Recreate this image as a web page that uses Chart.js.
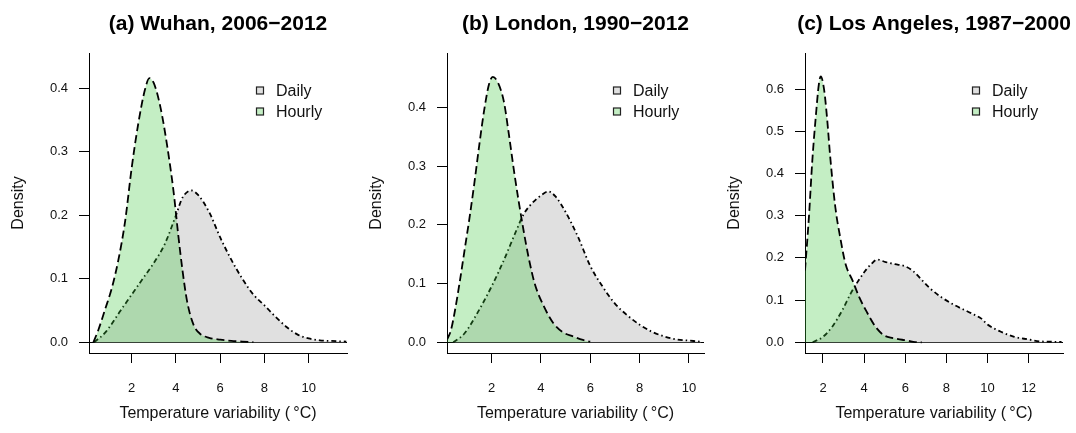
<!DOCTYPE html>
<html>
<head>
<meta charset="utf-8">
<script src="https://cdn.jsdelivr.net/npm/chart.js@4.4.1/dist/chart.umd.min.js"></script>
<style>
  body { margin: 0; background: #fff; }
  #wrap { position: relative; width: 1076px; height: 433px; }
  .panel { position: absolute; top: 0; height: 433px; }
</style>
</head>
<body>
<div id="wrap">
  <div class="panel" style="left:0;width:358px"><canvas id="wuhan" width="358" height="433"></canvas></div>
  <div class="panel" style="left:358px;width:358px"><canvas id="london" width="358" height="433"></canvas></div>
  <div class="panel" style="left:716px;width:360px"><canvas id="losangeles" width="360" height="433"></canvas></div>
</div>
<script>
// --- Data ---
const titles = ['(a) Wuhan, 2006\u22122012', '(b) London, 1990\u22122012', '(c) Los Angeles, 1987\u22122000'];
const seriesNames = ['Daily', 'Hourly'];
const xTitle = 'Temperature variability (\u2009\u00B0C)';
const yTitle = 'Density';

const xTicksAB = [2, 4, 6, 8, 10];
const xTicksC = [2, 4, 6, 8, 10, 12];
const yTicksAB = [0, 0.1, 0.2, 0.3, 0.4];
const yTicksC = [0, 0.1, 0.2, 0.3, 0.4, 0.5, 0.6];

// axis limits
const wuhanXRange = [0.07, 11.73];
const wuhanYRange = [-0.017, 0.4556];
const londonXRange = [0.195, 10.61];
const londonYRange = [-0.0182, 0.4928];
const laXRange = [1.125, 13.67];
const laYRange = [-0.0254, 0.6855];

// Wuhan
const wuhanDailyX = [0.3, 0.8, 1.5, 2.0, 2.5, 3.0, 3.5, 4.0, 4.3, 4.7, 5.0, 5.5, 6.0, 6.5, 7.0, 7.5, 8.0, 8.5, 9.0, 9.5, 10.0, 10.5, 11.0, 11.7];
const wuhanDailyY = [0, 0.015, 0.05, 0.075, 0.1, 0.125, 0.155, 0.2, 0.228, 0.239, 0.232, 0.205, 0.165, 0.13, 0.1, 0.075, 0.058, 0.04, 0.024, 0.012, 0.006, 0.003, 0.002, 0.001];
const wuhanHourlyX = [0.27, 0.5, 0.8, 1.1, 1.4, 1.7, 2.0, 2.3, 2.6, 2.8, 3.0, 3.3, 3.6, 3.9, 4.1, 4.3, 4.5, 4.8, 5.1, 5.5, 6.0, 6.5, 7.0, 7.5];
const wuhanHourlyY = [0, 0.02, 0.052, 0.085, 0.13, 0.19, 0.275, 0.345, 0.398, 0.416, 0.408, 0.37, 0.31, 0.235, 0.17, 0.112, 0.065, 0.027, 0.013, 0.007, 0.004, 0.002, 0.001, 0];

// London
const londonDailyX = [0.45, 0.9, 1.4, 2.0, 2.5, 3.0, 3.3, 3.6, 4.0, 4.3, 4.6, 5.0, 5.5, 6.0, 6.5, 7.0, 7.5, 8.0, 8.5, 9.0, 9.5, 10.0, 10.5];
const londonDailyY = [0, 0.015, 0.048, 0.095, 0.14, 0.19, 0.218, 0.235, 0.25, 0.257, 0.248, 0.222, 0.18, 0.13, 0.095, 0.066, 0.046, 0.03, 0.018, 0.01, 0.005, 0.003, 0.001];
const londonHourlyX = [0.2, 0.35, 0.5, 0.7, 0.9, 1.1, 1.3, 1.5, 1.7, 1.9, 2.05, 2.25, 2.5, 2.7, 2.9, 3.1, 3.3, 3.5, 3.75, 4.1, 4.5, 4.9, 5.3, 5.7, 6.0];
const londonHourlyY = [0.005, 0.02, 0.05, 0.1, 0.155, 0.21, 0.27, 0.335, 0.395, 0.44, 0.452, 0.443, 0.41, 0.355, 0.295, 0.24, 0.19, 0.145, 0.1, 0.063, 0.033, 0.017, 0.01, 0.004, 0.001];

// Los Angeles
const laDailyX = [1.5, 2.0, 2.45, 2.95, 3.35, 3.75, 4.08, 4.32, 4.64, 5.05, 5.5, 6.0, 6.4, 6.8, 7.2, 7.75, 8.4, 9.2, 9.7, 10.0, 10.65, 11.3, 11.95, 12.6, 13.6];
const laDailyY = [0, 0.013, 0.037, 0.077, 0.116, 0.148, 0.171, 0.184, 0.196, 0.19, 0.185, 0.18, 0.168, 0.148, 0.128, 0.107, 0.088, 0.069, 0.056, 0.042, 0.025, 0.013, 0.007, 0.002, 0.001];
const laHourlyX = [1.125, 1.32, 1.48, 1.65, 1.8, 1.89, 2.05, 2.2, 2.35, 2.6, 2.85, 3.1, 3.45, 3.75, 4.15, 4.55, 4.95, 5.4, 5.85, 6.1, 6.4, 6.8];
const laHourlyY = [0.17, 0.3, 0.43, 0.535, 0.612, 0.63, 0.6, 0.53, 0.44, 0.32, 0.245, 0.185, 0.145, 0.108, 0.07, 0.037, 0.017, 0.01, 0.006, 0.004, 0.001, 0];

// --- Styles ---
const FONT = '"Liberation Sans", Arial, Helvetica, sans-serif';
const dailyFill = 'rgb(224,224,224)';
const hourlyFill = 'rgba(60,200,60,0.3)';
Chart.defaults.font.family = FONT;
Chart.defaults.color = '#111';

function toPoints(xs, ys) {
  return xs.map((x, i) => ({ x: x, y: ys[i] }));
}

// title above plot area + legend in top-right corner (like R's legend())
const panelDecor = {
  id: 'panelDecor',
  afterDraw(chart, args, opts) {
    const { ctx, chartArea } = chart;
    ctx.save();
    ctx.fillStyle = '#000';
    ctx.font = 'bold 21px ' + FONT;
    ctx.textAlign = 'center';
    ctx.textBaseline = 'middle';
    ctx.fillText(opts.title, (chartArea.left + chartArea.right) / 2, 24);

    ctx.font = '16px ' + FONT;
    ctx.textAlign = 'left';
    chart.data.datasets.forEach((ds, i) => {
      const y = chartArea.top + 37.5 + i * 21;
      const bx = chartArea.right - 87;
      ctx.fillStyle = ds.backgroundColor;
      ctx.fillRect(bx - 3.5, y - 3.5, 7, 7);
      ctx.strokeStyle = '#222';
      ctx.lineWidth = 1.2;
      ctx.strokeRect(bx - 3.5, y - 3.5, 7, 7);
      ctx.fillStyle = '#111';
      ctx.fillText(ds.label, chartArea.right - 71, y + 1);
    });
    ctx.restore();
  }
};

function makePanel(id, p) {
  new Chart(document.getElementById(id), {
    type: 'line',
    data: {
      datasets: [
        {
          label: seriesNames[0],
          data: toPoints(p.dailyX, p.dailyY),
          order: 2,
          borderColor: '#000',
          borderWidth: 1.8,
          borderDash: [5, 3, 1.5, 3],
          backgroundColor: dailyFill,
          fill: 'origin',
          pointRadius: 0,
          cubicInterpolationMode: 'monotone'
        },
        {
          label: seriesNames[1],
          data: toPoints(p.hourlyX, p.hourlyY),
          order: 1,
          borderColor: '#000',
          borderWidth: 1.8,
          borderDash: [8, 4],
          backgroundColor: hourlyFill,
          fill: 'origin',
          pointRadius: 0,
          cubicInterpolationMode: 'monotone'
        }
      ]
    },
    options: {
      responsive: false,
      animation: false,
      layout: { padding: { left: 0, top: 53, right: p.padRight, bottom: 0 } },
      plugins: {
        legend: { display: false },
        tooltip: { enabled: false },
        panelDecor: { title: p.title }
      },
      scales: {
        x: {
          type: 'linear',
          min: p.xRange[0],
          max: p.xRange[1],
          afterFit: s => { s.height = 80; },
          afterBuildTicks: s => { s.ticks = p.xTicks.map(v => ({ value: v })); },
          grid: { drawOnChartArea: false, color: '#000', tickLength: 10 },
          border: { color: '#000', width: 1 },
          ticks: { padding: 18, font: { size: 13 }, maxRotation: 0, callback: v => String(v) },
          title: { display: true, text: xTitle, font: { size: 16 }, padding: { top: 0, bottom: 10 } }
        },
        y: {
          min: p.yRange[0],
          max: p.yRange[1],
          afterFit: s => { s.width = 89; },
          afterBuildTicks: s => { s.ticks = p.yTicks.map(v => ({ value: v })); },
          grid: {
            color: c => (c.tick && c.tick.value === 0 ? '#000' : 'rgba(0,0,0,0)'),
            tickColor: '#000',
            tickLength: 10
          },
          border: { color: '#000', width: 1 },
          ticks: { padding: 11, font: { size: 13 }, callback: v => v.toFixed(1) },
          title: { display: true, text: yTitle, font: { size: 16 }, padding: { top: 9, bottom: 0 } }
        }
      }
    },
    plugins: [panelDecor]
  });
}

makePanel('wuhan', {
  title: titles[0], xRange: wuhanXRange, yRange: wuhanYRange, xTicks: xTicksAB, yTicks: yTicksAB,
  dailyX: wuhanDailyX, dailyY: wuhanDailyY, hourlyX: wuhanHourlyX, hourlyY: wuhanHourlyY, padRight: 11
});
makePanel('london', {
  title: titles[1], xRange: londonXRange, yRange: londonYRange, xTicks: xTicksAB, yTicks: yTicksAB,
  dailyX: londonDailyX, dailyY: londonDailyY, hourlyX: londonHourlyX, hourlyY: londonHourlyY, padRight: 12
});
makePanel('losangeles', {
  title: titles[2], xRange: laXRange, yRange: laYRange, xTicks: xTicksC, yTicks: yTicksC,
  dailyX: laDailyX, dailyY: laDailyY, hourlyX: laHourlyX, hourlyY: laHourlyY, padRight: 13
});
</script>
</body>
</html>
